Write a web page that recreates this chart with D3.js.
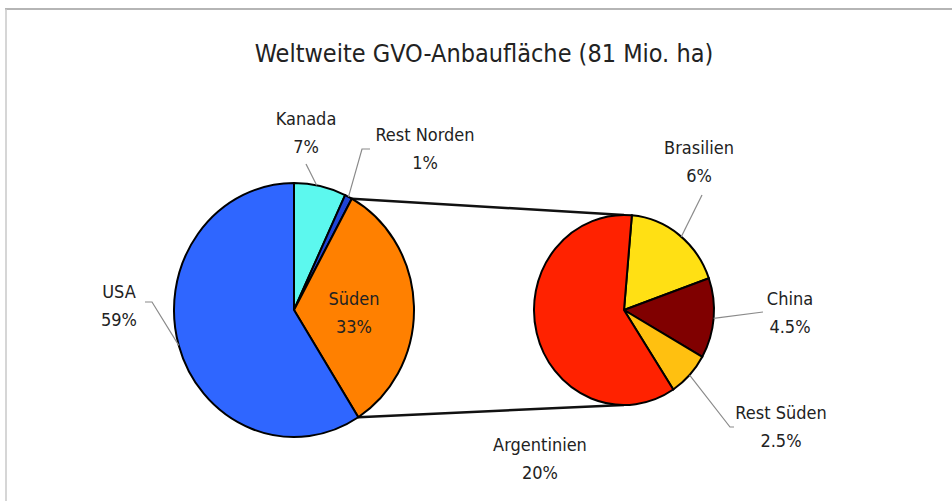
<!DOCTYPE html>
<html>
<head>
<meta charset="utf-8">
<script src="https://cdn.jsdelivr.net/npm/d3@7"></script>
<style>
  body { margin: 0; background: #fff; }
  svg text { font-family: "Liberation Sans Narrow", "DejaVu Sans Condensed", "Open Sans", sans-serif; fill: #222; }
</style>
</head>
<body>
<div id="chart"></div>
<script>
// data
const titleText = "Weltweite GVO-Anbaufläche (81 Mio. ha)";
const mainNames = ["Kanada", "Rest Norden", "Süden", "USA"];
const mainValues = [7, 1, 33, 59];
const mainLabels = ["7%", "1%", "33%", "59%"];
const subNames = ["Brasilien", "China", "Rest Süden", "Argentinien"];
const subValues = [6, 4.5, 2.5, 20];
const subLabels = ["6%", "4.5%", "2.5%", "20%"];

const mainColors = ["#5cf8ee", "#1f44d6", "#ff8000", "#2f66ff"];
const subColors = ["#ffe014", "#800000", "#ffc010", "#ff2200"];

const W = 952, H = 501;
const svg = d3.select("#chart").append("svg")
    .attr("width", W)
    .attr("height", H);

// frame (top + left edge)
svg.append("line").attr("x1", 5).attr("x2", W).attr("y1", 9).attr("y2", 9)
    .attr("stroke", "#b5b5b5").attr("stroke-width", 2);
svg.append("line").attr("x1", 6).attr("x2", 6).attr("y1", 9).attr("y2", H)
    .attr("stroke", "#c8c8c8").attr("stroke-width", 1.5);

svg.append("text")
    .attr("x", 484).attr("y", 62)
    .attr("text-anchor", "middle")
    .attr("font-size", 25)
    .text(titleText);

const R = 100; // base radius, scaled into ellipses below
const arc = d3.arc().innerRadius(0).outerRadius(R);

// left pie
const left = {cx: 294, cy: 310, rx: 120, ry: 127};
const mainPie = d3.pie().sort(null).value(d => d)
    .startAngle(0).endAngle(2 * Math.PI);
const mainArcs = mainPie(mainValues);

// right pie, rotated a little so Brasilien starts just right of top
const right = {cx: 624, cy: 310, rx: 90, ry: 95};
const subStart = 5 * Math.PI / 180;
const subPie = d3.pie().sort(null).value(d => d)
    .startAngle(subStart).endAngle(subStart + 2 * Math.PI);
const subArcs = subPie(subValues);

function ept(p, a, k = 1) {
    return [p.cx + p.rx * k * Math.sin(a), p.cy - p.ry * k * Math.cos(a)];
}

// connector lines
const sud = mainArcs[2];
const c1 = ept(left, sud.startAngle), c2 = ept(left, sud.endAngle);
svg.append("line").attr("x1", c1[0]).attr("y1", c1[1])
    .attr("x2", right.cx).attr("y2", right.cy - right.ry)
    .attr("stroke", "#111").attr("stroke-width", 2.5);
svg.append("line").attr("x1", c2[0]).attr("y1", c2[1])
    .attr("x2", right.cx).attr("y2", right.cy + right.ry)
    .attr("stroke", "#111").attr("stroke-width", 2.5);

function drawPie(p, arcs, colors) {
    const g = svg.append("g")
        .attr("transform", `translate(${p.cx},${p.cy}) scale(${p.rx / R},${p.ry / R})`);
    g.selectAll("path")
        .data(arcs)
        .enter().append("path")
        .attr("d", arc)
        .attr("fill", (d, i) => colors[i])
        .attr("stroke", "#000")
        .attr("stroke-width", 2)
        .attr("vector-effect", "non-scaling-stroke");
}
drawPie(left, mainArcs, mainColors);
drawPie(right, subArcs, subColors);

// labels: x, y of first line; leader polyline ends at the pie edge
function label(x, y, name, pct) {
    const t = svg.append("text").attr("text-anchor", "middle").attr("font-size", 18);
    t.append("tspan").attr("x", x).attr("y", y).text(name);
    t.append("tspan").attr("x", x).attr("y", y + 28).text(pct);
}
function leader(pts) {
    svg.append("path")
        .attr("d", d3.line()(pts))
        .attr("fill", "none")
        .attr("stroke", "#8a8a8a")
        .attr("stroke-width", 1.2);
}

const mid = d => (d.startAngle + d.endAngle) / 2;

// Kanada
label(306, 125, mainNames[0], mainLabels[0]);
leader([[306, 164], ept(left, 0.19)]);
// Rest Norden
label(425, 141, mainNames[1], mainLabels[1]);
leader([[370, 149], [362, 149], ept(left, mid(mainArcs[1]))]);
// Süden (inside)
label(354, 305, mainNames[2], mainLabels[2]);
// USA
label(119, 298, mainNames[3], mainLabels[3]);
leader([[145, 302], [152, 302], ept(left, 4.43)]);

// Brasilien
label(699, 154, subNames[0], subLabels[0]);
leader([[702, 195], ept(right, 0.69)]);
// China
label(790, 305, subNames[1], subLabels[1]);
leader([[763, 312], ept(right, mid(subArcs[1]))]);
// Rest Süden
label(781, 419, subNames[2], subLabels[2]);
leader([[734, 427], [730, 427], ept(right, mid(subArcs[2]))]);
// Argentinien
label(540, 451, subNames[3], subLabels[3]);
</script>
</body>
</html>
